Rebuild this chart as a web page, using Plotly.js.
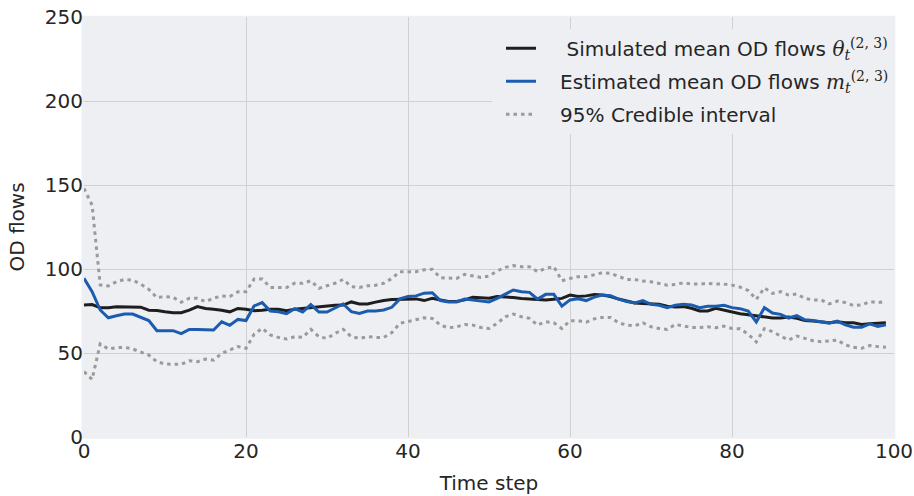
<!DOCTYPE html>
<html>
<head>
<meta charset="utf-8">
<script src="https://cdn.plot.ly/plotly-3.0.1.min.js"></script>
<style>html,body{margin:0;padding:0;background:#fff;}#chart{width:914px;height:496px;}</style>
</head>
<body>
<div id="chart"></div>
<script>
const timeSteps = [0,1,2,3,4,5,6,7,8,9,10,11,12,13,14,15,16,17,18,19,20,21,22,23,24,25,26,27,28,29,30,31,32,33,34,35,36,37,38,39,40,41,42,43,44,45,46,47,48,49,50,51,52,53,54,55,56,57,58,59,60,61,62,63,64,65,66,67,68,69,70,71,72,73,74,75,76,77,78,79,80,81,82,83,84,85,86,87,88,89,90,91,92,93,94,95,96,97,98,99];

const simulatedMean = [
  78.5, 78.8, 77.0, 77.0, 77.5, 77.5, 77.5, 77.3, 75.5, 75.3,
  74.5, 74.0, 74.0, 75.5, 77.6, 76.5, 76.0, 75.5, 74.5, 76.5,
  76.0, 75.2, 75.5, 76.0, 76.0, 75.2, 76.0, 76.5, 77.0, 77.6,
  78.0, 78.4, 78.5, 80.4, 79.2, 79.2, 80.3, 81.3, 81.8, 82.0,
  82.2, 82.2, 81.2, 82.5, 81.6, 80.6, 80.6, 81.6, 83.2, 83.0,
  82.6, 83.6, 83.4, 83.0, 82.5, 82.1, 81.6, 81.6, 82.0, 82.5,
  84.5, 83.6, 84.0, 84.8, 84.5, 83.6, 82.1, 80.8, 79.8, 79.4,
  79.4, 79.0, 77.8, 77.4, 77.6, 76.6, 75.0, 75.0, 76.6, 75.4,
  74.4, 73.4, 72.8, 72.0, 71.2, 70.8, 70.8, 71.4, 70.6, 69.4,
  69.0, 68.6, 68.0, 68.6, 68.0, 68.0, 67.0, 67.4, 67.6, 68.0
];

const estimatedMean = [
  94.5, 86.5, 75.6, 71.0, 72.2, 73.2, 73.2, 71.3, 69.3, 63.3,
  63.3, 63.3, 61.5, 64.0, 64.0, 63.7, 63.7, 68.6, 66.5, 70.0,
  69.3, 78.0, 80.0, 75.0, 74.6, 73.4, 76.4, 74.4, 78.8, 74.4,
  74.4, 76.8, 79.2, 74.6, 73.6, 75.0, 75.0, 75.6, 77.2, 82.2,
  83.6, 84.0, 85.6, 85.9, 81.2, 80.4, 80.4, 82.1, 81.6, 80.8,
  80.4, 82.5, 84.9, 87.5, 86.5, 86.1, 82.1, 84.9, 84.9, 77.9,
  81.6, 82.3, 81.2, 83.3, 84.5, 84.1, 82.1, 80.6, 79.8, 81.2,
  79.0, 78.4, 77.0, 78.4, 79.0, 78.6, 77.0, 77.8, 77.8, 78.4,
  77.0, 76.4, 75.0, 68.5, 77.0, 73.8, 73.0, 70.8, 72.2, 69.8,
  69.4, 68.8, 67.8, 69.0, 66.8, 65.4, 65.4, 67.4, 65.8, 66.8
];

const upperCI = [
  148.0, 138.0, 90.5, 89.9, 92.4, 93.8, 93.4, 91.0, 87.9, 83.0,
  83.6, 83.2, 80.2, 82.6, 82.6, 80.6, 82.6, 84.0, 83.6, 86.4,
  86.5, 94.0, 94.0, 89.0, 89.0, 89.0, 91.5, 91.5, 93.0, 88.5,
  90.0, 91.5, 93.8, 89.5, 89.0, 90.0, 90.3, 91.5, 94.4, 98.4,
  98.4, 98.4, 99.5, 99.8, 94.8, 94.8, 94.4, 96.8, 96.0, 95.0,
  95.8, 98.8, 101.0, 102.0, 101.4, 101.4, 98.4, 100.4, 101.4, 93.0,
  94.4, 95.4, 95.4, 96.6, 97.8, 97.4, 95.8, 93.8, 93.8, 92.8,
  92.4, 91.5, 90.4, 90.8, 91.8, 91.0, 91.0, 91.5, 91.0, 91.0,
  90.4, 89.2, 87.2, 81.9, 88.8, 85.5, 86.5, 84.5, 85.1, 82.5,
  81.6, 81.6, 79.2, 80.9, 80.0, 78.2, 78.6, 80.6, 80.0, 80.6
];

const lowerCI = [
  38.9, 34.3, 55.4, 52.4, 53.2, 53.4, 52.4, 50.8, 48.8, 44.8,
  43.5, 43.3, 43.3, 45.4, 44.8, 46.4, 45.8, 49.8, 51.8, 53.8,
  52.8, 61.2, 64.7, 60.7, 59.3, 58.3, 59.7, 59.3, 64.1, 59.7,
  58.7, 61.7, 64.1, 59.7, 58.7, 59.7, 59.3, 59.3, 62.1, 67.7,
  68.7, 69.7, 71.0, 70.6, 66.6, 65.0, 65.6, 67.0, 66.6, 65.2,
  64.6, 67.6, 71.6, 73.2, 71.6, 70.6, 66.6, 68.6, 68.0, 64.6,
  69.2, 69.2, 68.4, 70.3, 71.2, 71.2, 68.0, 66.6, 66.2, 68.0,
  65.6, 64.6, 64.0, 67.0, 66.0, 65.2, 65.2, 65.6, 65.0, 66.0,
  64.6, 64.4, 61.2, 56.6, 64.5, 62.7, 60.1, 57.7, 60.1, 58.7,
  57.3, 56.7, 57.3, 57.7, 54.8, 53.4, 52.8, 54.4, 53.8, 53.4
];

const xTickVals = [0, 20, 40, 60, 80, 100];
const yTickVals = [0, 50, 100, 150, 200, 250];
const xGridVals = [20, 40, 60, 80];
const yGridVals = [50, 100, 150, 200];

const seriesNames = [
  '\u00a0\u00a0\u00a0\u00a0Simulated mean OD flows <span style="font-family:\'DejaVu Serif\'"><i>θ</i><sub><i>t</i></sub><sup>(2, 3)</sup></span>',
  '\u00a0\u00a0\u00a0Estimated mean OD flows <span style="font-family:\'DejaVu Serif\'"><i>m</i><sub><i>t</i></sub><sup>(2, 3)</sup></span>',
  '\u00a0\u00a0\u00a095% Credible interval'
];

const BG = '#eeeff2';
const TXT = '#262626';
const GRID = '#d0d0d0';
const FS = 20;

const traces = [
  {x: timeSteps, y: simulatedMean, mode: 'lines', name: seriesNames[0], legendgroup: 'a',
   line: {color: '#1e1e1e', width: 3}},
  {x: timeSteps, y: estimatedMean, mode: 'lines', name: seriesNames[1], legendgroup: 'b',
   line: {color: '#1c5caf', width: 3}},
  {x: timeSteps, y: upperCI, mode: 'lines', name: seriesNames[2], legendgroup: 'c',
   line: {color: '#9a9a9a', width: 3, dash: '3.5px,4px'}},
  {x: timeSteps, y: lowerCI, mode: 'lines', name: seriesNames[2], legendgroup: 'c', showlegend: false,
   line: {color: '#9a9a9a', width: 3, dash: '3.5px,4px'}}
];

const layout = {
  width: 914, height: 496,
  margin: {l: 83.7, r: 20.3, t: 17, b: 59, pad: 0},
  paper_bgcolor: '#ffffff',
  plot_bgcolor: BG,
  font: {family: 'DejaVu Sans', size: FS, color: TXT},
  showlegend: true,
  legend: {
    x: 1, xanchor: 'right', y: 0.972, yanchor: 'top',
    bgcolor: BG, borderwidth: 0,
    font: {family: 'DejaVu Sans', size: FS, color: TXT},
    traceorder: 'grouped', tracegroupgap: 4, indentation: 9
  },
  xaxis: {
    range: [0, 100], tickvals: xTickVals, ticks: '', showgrid: false, zeroline: false,
    showline: false, automargin: false,
    tickfont: {family: 'DejaVu Sans', size: FS, color: TXT},
    minor: {tickvals: xGridVals, showgrid: true, gridcolor: GRID, gridwidth: 1, ticks: ''},
    title: {text: 'Time step', font: {family: 'DejaVu Sans', size: FS, color: TXT}, standoff: 13}
  },
  yaxis: {
    range: [0, 250], tickvals: yTickVals, ticks: '', showgrid: false, zeroline: false,
    showline: false, automargin: false,
    tickfont: {family: 'DejaVu Sans', size: FS, color: TXT},
    minor: {tickvals: yGridVals, showgrid: true, gridcolor: GRID, gridwidth: 1, ticks: ''},
    title: {text: 'OD flows', font: {family: 'DejaVu Sans', size: FS, color: TXT}, standoff: 14}
  },
  shapes: [{
    type: 'rect', xref: 'paper', yref: 'paper', layer: 'below',
    x0: -0.003, x1: 1.0016, y0: -0.004, y1: 1.003,
    fillcolor: BG, line: {width: 0}
  }]
};

Plotly.newPlot('chart', traces, layout, {staticPlot: true, displayModeBar: false});
</script>
</body>
</html>
